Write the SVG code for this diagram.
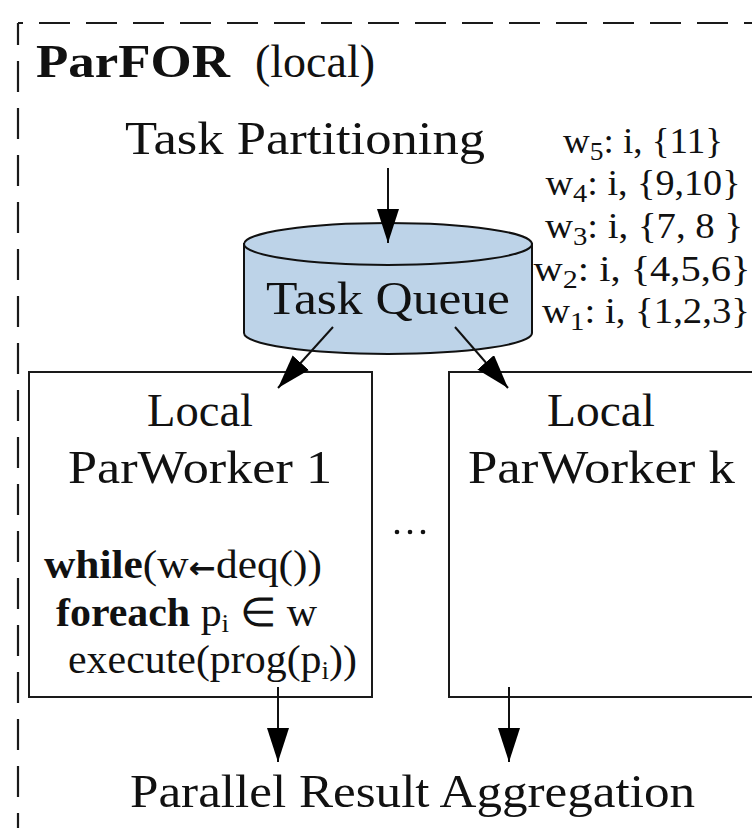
<svg xmlns="http://www.w3.org/2000/svg" width="752" height="828" viewBox="0 0 752 828">
  <style>
    .t { font-family: "Liberation Serif", "Times New Roman", serif; fill: #111; }
    .big { font-size: 46px; }
    .mid { font-size: 40px; }
    .lbl { font-size: 35px; }
    .sub { font-size: 26px; }
    .b { font-weight: bold; }
    .sym { font-family: "DejaVu Sans", sans-serif; font-size: 30px; font-weight: bold; }
    .box { fill: #fff; stroke: #1a1a1a; stroke-width: 2; }
    .edge { fill: none; stroke: #111; stroke-width: 2; }
    .frame { fill: none; stroke: #1a1a1a; stroke-width: 2.2; stroke-dasharray: 31 16; }
  </style>
  <defs>
    <marker id="arrow" markerUnits="userSpaceOnUse" markerWidth="36" markerHeight="24" refX="34" refY="11" orient="auto">
      <path d="M0,0 L34,11 L0,22 Z" fill="#000"/>
    </marker>
  </defs>

  <rect width="752" height="828" fill="#fff"/>

  <!-- dashed frame of the local ParFOR scope -->
  <g id="frame">
    <line class="frame" x1="18" y1="23" x2="760" y2="23" stroke-dashoffset="26"/>
    <line class="frame" x1="18" y1="23" x2="18" y2="840" stroke-dashoffset="9"/>
    <text class="t big b" x="36" y="77" textLength="194" lengthAdjust="spacingAndGlyphs">ParFOR</text>
    <text class="t big" x="255" y="77" textLength="120" lengthAdjust="spacingAndGlyphs">(local)</text>
  </g>

  <g id="task-partitioning">
    <text class="t big" x="125" y="154" textLength="360" lengthAdjust="spacingAndGlyphs">Task Partitioning</text>
  </g>

  <!-- queue contents -->
  <g id="queue-contents" text-anchor="middle">
    <text class="t lbl" x="643" y="153" textLength="160" lengthAdjust="spacingAndGlyphs">w<tspan class="sub" dy="7">5</tspan><tspan dy="-7">: i, {11}</tspan></text>
    <text class="t lbl" x="643" y="195" textLength="195" lengthAdjust="spacingAndGlyphs">w<tspan class="sub" dy="7">4</tspan><tspan dy="-7">: i, {9,10}</tspan></text>
    <text class="t lbl" x="644" y="238" textLength="198" lengthAdjust="spacingAndGlyphs">w<tspan class="sub" dy="7">3</tspan><tspan dy="-7">: i, {7, 8 }</tspan></text>
    <text class="t lbl" x="642" y="281" textLength="217" lengthAdjust="spacingAndGlyphs">w<tspan class="sub" dy="7">2</tspan><tspan dy="-7">: i, {4,5,6}</tspan></text>
    <text class="t lbl" x="646" y="323" textLength="208" lengthAdjust="spacingAndGlyphs">w<tspan class="sub" dy="7">1</tspan><tspan dy="-7">: i, {1,2,3}</tspan></text>
  </g>

  <g id="task-queue">
    <path d="M244,244 L244,333 A144,21 0 0 0 532,333 L532,244 Z" fill="#bdd3e8" stroke="#111" stroke-width="2"/>
    <ellipse cx="388" cy="244" rx="144" ry="21" fill="#bdd3e8" stroke="#111" stroke-width="2"/>
    <text class="t big" x="266" y="314" textLength="244" lengthAdjust="spacingAndGlyphs">Task Queue</text>
  </g>

  <g id="worker-1">
    <rect class="box" x="29" y="372" width="343" height="325"/>
    <text class="t big" x="147" y="426" textLength="106" lengthAdjust="spacingAndGlyphs">Local</text>
    <text class="t big" x="68" y="483" textLength="264" lengthAdjust="spacingAndGlyphs">ParWorker 1</text>
    <text class="t mid" x="44" y="578" textLength="278" lengthAdjust="spacingAndGlyphs"><tspan class="b">while</tspan>(w<tspan class="sym">←</tspan>deq())</text>
    <text class="t mid" x="56" y="626" textLength="261" lengthAdjust="spacingAndGlyphs"><tspan class="b">foreach</tspan> p<tspan class="sub" dy="6">i</tspan><tspan dy="-6"> ∈ w</tspan></text>
    <text class="t mid" x="68" y="673" textLength="289" lengthAdjust="spacingAndGlyphs">execute(prog(p<tspan class="sub" dy="6">i</tspan><tspan dy="-6">))</tspan></text>
  </g>

  <g id="ellipsis">
    <circle cx="397" cy="532" r="2.3" fill="#111"/>
    <circle cx="410" cy="532" r="2.3" fill="#111"/>
    <circle cx="423" cy="532" r="2.3" fill="#111"/>
  </g>

  <g id="worker-k">
    <rect class="box" x="449" y="372" width="320" height="325"/>
    <text class="t big" x="547" y="426" textLength="108" lengthAdjust="spacingAndGlyphs">Local</text>
    <text class="t big" x="468" y="483" textLength="267" lengthAdjust="spacingAndGlyphs">ParWorker k</text>
  </g>

  <g id="result-aggregation">
    <text class="t big" x="130" y="807" textLength="565" lengthAdjust="spacingAndGlyphs">Parallel Result Aggregation</text>
  </g>

  <g id="connectors">
    <line class="edge" x1="388" y1="168" x2="388" y2="243" marker-end="url(#arrow)"/>
    <line class="edge" x1="333" y1="327" x2="278" y2="388" marker-end="url(#arrow)"/>
    <line class="edge" x1="455" y1="327" x2="508" y2="388" marker-end="url(#arrow)"/>
    <line class="edge" x1="278" y1="687" x2="278" y2="762" marker-end="url(#arrow)"/>
    <line class="edge" x1="509" y1="687" x2="509" y2="762" marker-end="url(#arrow)"/>
  </g>
</svg>
